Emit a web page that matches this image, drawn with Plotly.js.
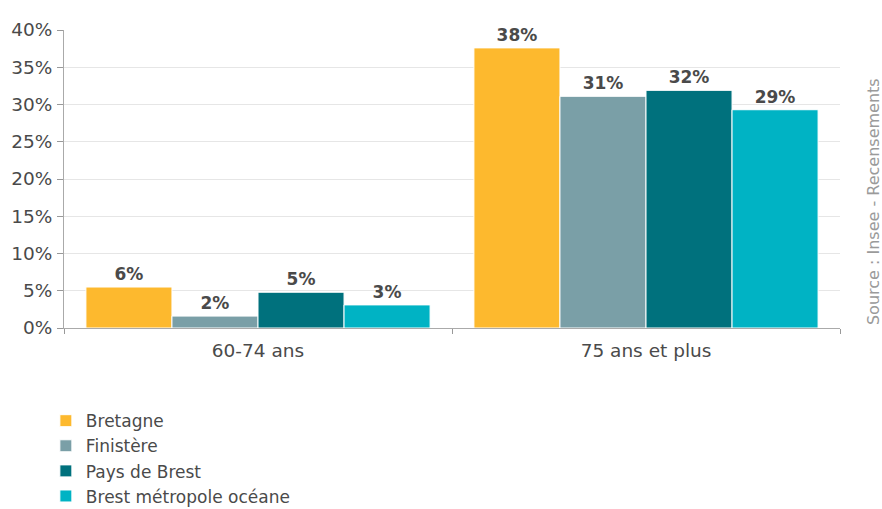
<!DOCTYPE html>
<html><head><meta charset="utf-8">
<script src="https://cdn.plot.ly/plotly-3.0.1.min.js"></script>
<style>body{margin:0;background:#fff}</style>
</head><body>
<div id="chart" style="width:882px;height:509px"></div>
<script>
const categories = ["60-74 ans", "75 ans et plus"];
const seriesNames = ["Bretagne", "Finistère", "Pays de Brest", "Brest métropole océane"];
const bretagne = [5.5, 37.6];
const finistere = [1.6, 31.1];
const paysDeBrest = [4.8, 31.9];
const brestMetropole = [3.1, 29.3];
const labelsBretagne = ["6%", "38%"];
const labelsFinistere = ["2%", "31%"];
const labelsPays = ["5%", "32%"];
const labelsBrest = ["3%", "29%"];
const yTickVals = [0, 5, 10, 15, 20, 25, 30, 35, 40];
const yTickText = ["0%", "5%", "10%", "15%", "20%", "25%", "30%", "35%", "40%"];
const colors = ["#FDB92E", "#7A9FA7", "#00717D", "#00B3C4"];
const values = [bretagne, finistere, paysDeBrest, brestMetropole];
const labels = [labelsBretagne, labelsFinistere, labelsPays, labelsBrest];

const font = "'DejaVu Sans', sans-serif";
const traces = seriesNames.map((n, i) => ({
  type: "bar", name: n, x: categories, y: values[i],
  text: labels[i], textposition: "outside", cliponaxis: false,
  textfont: {family: font, size: 17, color: "#4a4a4a", weight: "bold"},
  marker: {color: colors[i], line: {color: "#ffffff", width: 1}},
  hoverinfo: "none"
}));

const layout = {
  width: 882, height: 509,
  margin: {l: 64, r: 42, t: 30, b: 181, autoexpand: false},
  barmode: "group", bargap: 0.113, bargroupgap: 0,
  paper_bgcolor: "#fff", plot_bgcolor: "#fff",
  font: {family: font, color: "#4a4a4a", size: 18},
  xaxis: {
    type: "category", tickson: "boundaries", ticks: "outside", ticklen: 5,
    tickcolor: "#999", showline: true, linecolor: "#aaa", linewidth: 1,
    tickfont: {size: 18.5, color: "#4a4a4a"}, showgrid: false, ticklabelstandoff: 6
  },
  yaxis: {
    range: [0, 40], tickvals: yTickVals, ticktext: yTickText,
    ticks: "outside", ticklen: 6, tickcolor: "#999", ticklabelstandoff: 1,
    showline: true, linecolor: "#aaa", linewidth: 1,
    gridcolor: "#e6e6e6", zeroline: false,
    tickfont: {size: 18.5, color: "#4a4a4a"}
  },
  showlegend: true,
  legend: {
    orientation: "v", xref: "container", yref: "container",
    x: 0.052, xanchor: "left", y: 0.208, yanchor: "top",
    font: {size: 17, color: "#4a4a4a"}, itemwidth: 30, tracegroupgap: 0,
    bgcolor: "rgba(0,0,0,0)"
  },
  annotations: [{
    text: "Source : Insee - Recensements", xref: "paper", yref: "paper",
    x: 1.0425, y: 0.426, xanchor: "center", yanchor: "middle",
    textangle: -90, showarrow: false,
    font: {size: 16, color: "#9a9a9a", family: font}
  }]
};
Plotly.newPlot("chart", traces, layout, {displayModeBar: false, staticPlot: true});
</script>
</body></html>
